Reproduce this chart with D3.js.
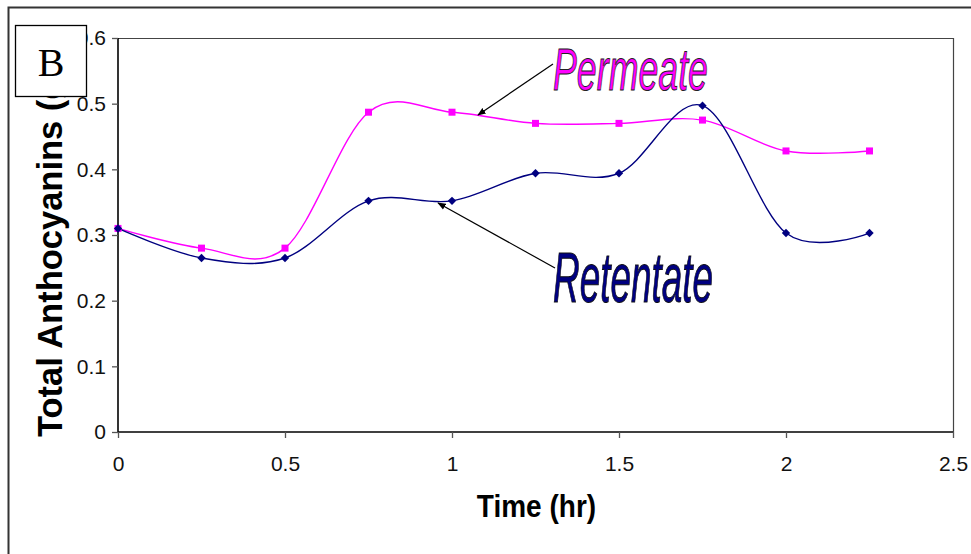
<!DOCTYPE html>
<html>
<head>
<meta charset="utf-8">
<script src="https://cdn.jsdelivr.net/npm/d3@7/dist/d3.min.js"></script>
<style>
  html, body { margin: 0; padding: 0; background: #fff; }
  svg { display: block; }
  text { font-family: "Liberation Sans", Arial, sans-serif; }
</style>
</head>
<body>
<svg id="chart" width="971" height="554"></svg>
<script>
// Sampling times (hr)
const times = [0, 0.25, 0.5, 0.75, 1, 1.25, 1.5, 1.75, 2, 2.25];
// Total anthocyanins in each stream
const permeate  = [0.31, 0.28, 0.28, 0.487, 0.487, 0.47, 0.47, 0.475, 0.428, 0.428];
const retentate = [0.31, 0.265, 0.265, 0.352, 0.352, 0.394, 0.394, 0.497, 0.303, 0.303];
// Axis ticks
const xTicks = [0, 0.5, 1, 1.5, 2, 2.5];
const yTicks = [0, 0.1, 0.2, 0.3, 0.4, 0.5, 0.6];

const svg = d3.select("#chart");
const W = 971, H = 554;
const plot = { left: 118, right: 953, top: 38, bottom: 432 };

const x = d3.scaleLinear().domain([0, 2.5]).range([plot.left, plot.right]);
const y = d3.scaleLinear().domain([0, 0.6]).range([plot.bottom, plot.top]);

// Chart frame (runs off the right and bottom edges)
svg.append("rect")
  .attr("x", 8.5).attr("y", 7.5).attr("width", W + 20).attr("height", H + 20)
  .attr("fill", "#fff").attr("stroke", "#333").attr("stroke-width", 2);

// Plot area outline (top and right)
svg.append("path")
  .attr("d", `M${plot.left},${plot.top + 0.5}H${plot.right + 0.5}V${plot.bottom}`)
  .attr("fill", "none").attr("stroke", "#444").attr("stroke-width", 1.2);

// Axes
const xAxis = d3.axisBottom(x).tickValues(xTicks).tickSize(6).tickPadding(18)
  .tickFormat(d => d3.format("")(d));
const yAxis = d3.axisLeft(y).tickValues(yTicks).tickSize(6).tickPadding(6)
  .tickFormat(d => d3.format("")(+d.toFixed(1)));

const gx = svg.append("g").attr("transform", `translate(0,${plot.bottom})`).call(xAxis);
const gy = svg.append("g").attr("transform", `translate(${plot.left},0)`).call(yAxis);

[gx, gy].forEach(g => {
  g.select(".domain").attr("stroke", "#000").attr("stroke-width", 1.6);
  g.selectAll(".tick line").attr("stroke", "#555").attr("stroke-width", 1.3);
  g.selectAll(".tick text")
    .attr("font-family", "'Liberation Sans', Arial, sans-serif")
    .attr("font-size", 21).attr("fill", "#111");
});
gx.selectAll(".tick text").attr("dy", "0.71em");
// axis lines end exactly at the plot edges
gx.select(".domain").attr("d", `M${plot.left},0H${plot.right}`);
gy.select(".domain").attr("d", `M0,${plot.bottom}V${plot.top}`);

// Series lines (smoothed)
const line = d3.line()
  .x((d, i) => x(times[i]))
  .y(d => y(d))
  .curve(d3.curveCardinal.tension(0));

svg.append("path").datum(permeate)
  .attr("d", line).attr("fill", "none")
  .attr("stroke", "#ff00ff").attr("stroke-width", 1.4);
svg.append("path").datum(retentate)
  .attr("d", line).attr("fill", "none")
  .attr("stroke", "#000080").attr("stroke-width", 1.4);

// Markers
svg.append("g").selectAll("rect").data(permeate).join("rect")
  .attr("x", (d, i) => x(times[i]) - 3.5)
  .attr("y", d => y(d) - 3.5)
  .attr("width", 7).attr("height", 7)
  .attr("fill", "#ff00ff");

const diamond = d3.symbol().type(d3.symbolDiamond2).size(45);
svg.append("g").selectAll("path").data(retentate).join("path")
  .attr("transform", (d, i) => `translate(${x(times[i])},${y(d)})`)
  .attr("d", diamond)
  .attr("fill", "#000080");

// Axis titles
svg.append("text")
  .attr("x", (plot.left + plot.right) / 2 + 1).attr("y", 517)
  .attr("text-anchor", "middle")
  .attr("font-size", 28).attr("font-weight", "bold")
  .attr("transform", "translate(0,517) scale(1,1.12) translate(0,-517)")
  .text("Time (hr)");

svg.append("text")
  .attr("transform", "translate(62,437) rotate(-90)")
  .attr("x", 0).attr("y", 0)
  .attr("font-size", 34.5).attr("font-weight", "bold")
  .text("Total Anthocyanins (g/L)");

// Panel letter box
svg.append("rect")
  .attr("x", 15.5).attr("y", 25.5).attr("width", 71).attr("height", 71)
  .attr("fill", "#fff").attr("stroke", "#000").attr("stroke-width", 1.3);
svg.append("text")
  .attr("x", 51).attr("y", 76)
  .attr("text-anchor", "middle")
  .attr("font-size", 40)
  .style("font-family", "'Liberation Serif', 'Times New Roman', serif")
  .text("B");

// Arrow annotations
const defs = svg.append("defs");
defs.append("marker")
  .attr("id", "arrow").attr("viewBox", "0 0 10 10")
  .attr("refX", 9).attr("refY", 5)
  .attr("markerWidth", 7).attr("markerHeight", 7)
  .attr("orient", "auto")
  .append("path").attr("d", "M0,1L10,5L0,9Z").attr("fill", "#000");

svg.append("line")
  .attr("x1", 553).attr("y1", 64).attr("x2", 478).attr("y2", 115)
  .attr("stroke", "#000").attr("stroke-width", 1.2)
  .attr("marker-end", "url(#arrow)");
svg.append("line")
  .attr("x1", 555).attr("y1", 268).attr("x2", 438).attr("y2", 203)
  .attr("stroke", "#000").attr("stroke-width", 1.2)
  .attr("marker-end", "url(#arrow)");

// Series labels
svg.append("text")
  .attr("x", 553).attr("y", 90)
  .attr("font-size", 60).attr("font-style", "italic")
  .attr("textLength", 155).attr("lengthAdjust", "spacingAndGlyphs")
  .attr("fill", "#ff00ff").attr("stroke", "#222").attr("stroke-width", 1)
  .text("Permeate");
svg.append("text")
  .attr("x", 553).attr("y", 302)
  .attr("font-size", 70).attr("font-style", "italic")
  .attr("textLength", 160).attr("lengthAdjust", "spacingAndGlyphs")
  .attr("fill", "#000080").attr("stroke", "#111").attr("stroke-width", 1)
  .text("Retentate");
</script>
</body>
</html>
